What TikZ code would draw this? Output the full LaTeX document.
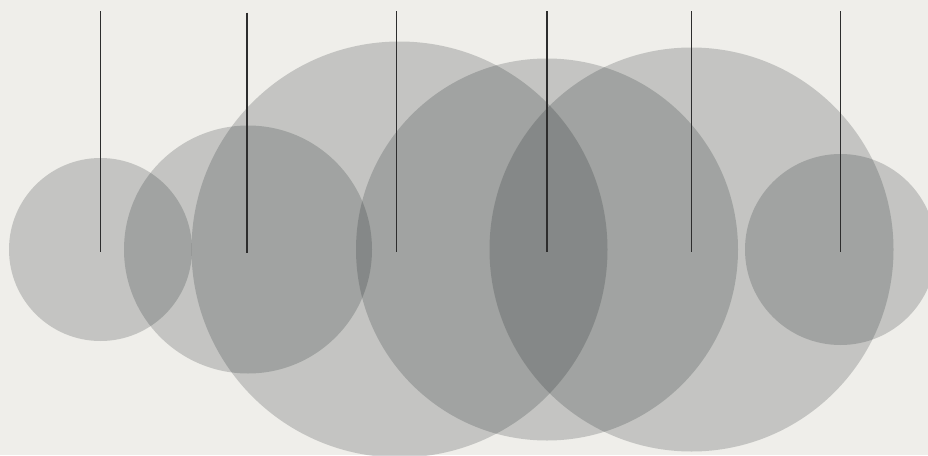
\documentclass[tikz,border=0pt]{standalone}
\begin{document}
\begin{tikzpicture}[x=1pt,y=-1pt,
  bubble/.style={circle,inner sep=0pt,fill=bubblecol,fill opacity=0.2,draw=none},
  stem/.style={draw=stemcol,line width=1.1pt}]
\definecolor{bgcol}{RGB}{239,238,234}
\definecolor{bubblecol}{RGB}{24,32,34}
\definecolor{stemcol}{RGB}{45,45,45}
\fill[bgcol] (0,0) rectangle (928,455);
\useasboundingbox (0,0) rectangle (928,455);
\node[bubble,minimum size=183pt] (c1) at (100.5,249.5) {};
\node[bubble,minimum size=248pt] (c2) at (248,249.5) {};
\node[bubble,minimum size=416pt] (c3) at (399.5,249.5) {};
\node[bubble,minimum size=382pt] (c4) at (547,249.5) {};
\node[bubble,minimum size=404pt] (c5) at (691.5,249.5) {};
\node[bubble,minimum size=191pt] (c6) at (840.5,249.5) {};
\coordinate (t1) at (100.5,11);
\coordinate (t2) at (247,12.5);
\coordinate (t3) at (396.7,11);
\coordinate (t4) at (547,11);
\coordinate (t5) at (691.5,11);
\coordinate (t6) at (840.5,11);
\coordinate (b1) at (100.5,251.5);
\coordinate (b2) at (247,253);
\coordinate (b3) at (396.7,251.5);
\coordinate (b4) at (547,251.5);
\coordinate (b5) at (691.5,251.5);
\coordinate (b6) at (840.5,251.5);
\foreach \i in {1,...,6} \draw[stem] (t\i) -- (b\i);
\end{tikzpicture}
\end{document}
